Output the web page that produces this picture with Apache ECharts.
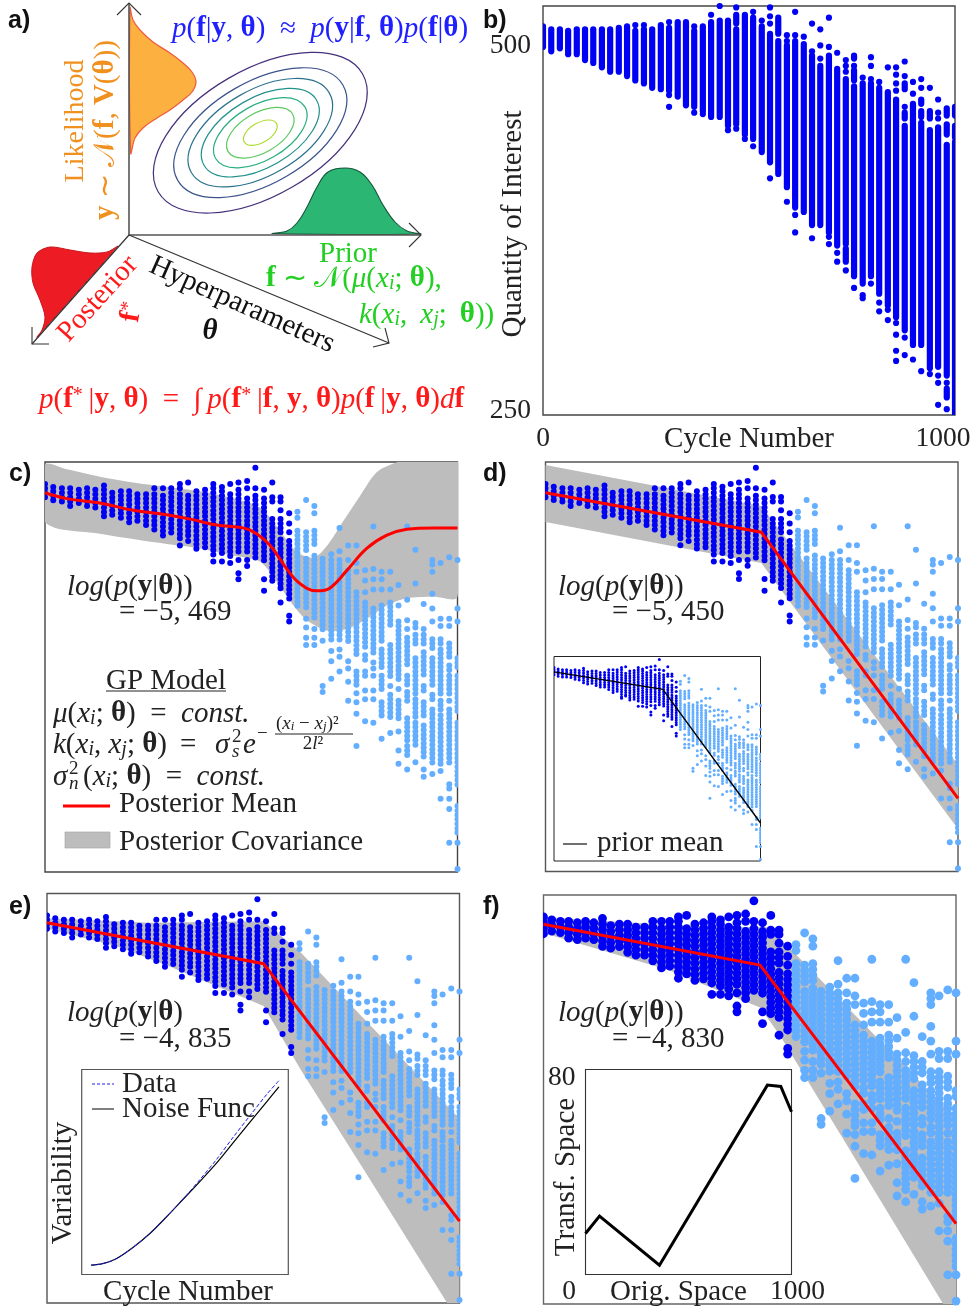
<!DOCTYPE html>
<html><head><meta charset="utf-8">
<style>html,body{margin:0;padding:0;background:#fff}#c{width:970px;height:1309px}</style>
<script src="https://cdn.jsdelivr.net/npm/echarts@6/dist/echarts.min.js"></script>
</head><body><div id="c"></div>
<script>
// ---------- DATA ----------
const cycles=[0,20,41,61,82,102,122,143,163,184,204,224,245,265,286,306,327,347,367,388,408,429,449,469,490,510,531,551,571,592,612,633,653,673,694,714,735,755,776,796,816,837,857,878,898,918,939,959,980,1000];
// Panel b: per column, runs [top,bottom] or single values [v] of the quantity of interest
const fullData=[
[[513,499]],[[511,496]],[[511,498]],[[510,494]],[[511,494]],[[511,490]],[[511,488]],[[511,485]],[[511,482]],[[512,482]],
[[513,479]],[[514],[510,476]],[[514],[511,474]],[[511,471]],[[514,470]],[[516],[512,469],[466],[458]],[[516,465]],[[516,459]],[[513],[510,458],[454]],[[513,455],[453]],
[[521],[516,451]],[[527],[517,451]],[[517,445],[442]],[[526],[521,515],[511,446],[443]],[[521,439],[436]],[[523],[519,436],[431]],[[517],[513,427]],[[526],[520],[515],[508,420],[409]],[[519,508],[503,412]],[[507],[503],[500,403],[393]],
[[523],[507],[503,389],[384],[372]],[[506],[501,386]],[[515],[496],[493,377],[368]],[[511],[500],[491],[486,377]],[[519],[499],[493,372],[369],[364]],[[495],[484,363],[358],[352]],[[490],[486],[482],[477,364],[361,352],[346]],[[493,491],[486],[483,476],[472,342],[334]],[[478],[474,337],[329],[327]],[[492],[486],[477],[474,342],[337]],
[[475],[471,330],[324],[318]],[[485],[468,322],[319],[312]],[[485],[480],[474],[469],[463,314],[310],[302],[291],[284]],[[489],[479],[474,470],[458],[454,450],[445,305],[300],[288]],[[475],[467],[460,295],[285]],[[477],[471],[463,460],[455,451],[447,295],[277]],[[471],[455,450],[442,279],[275]],[[463],[454],[450],[444,280],[274],[269],[254]],[[457,452],[446,439],[432,274],[269],[265,259],[251]],[[458,452],[445,437],[434,248]]
];
// Panels c-f: per column, runs of the sampled observations; first 30 columns are training data
const trainColumns=30;
const sampledData=[
[[512,500]],[[510,500]],[[509,499]],[[509,496]],[[508,496]],[[509,494]],[[508,493]],[[511,489]],[[506,488]],[[507,488]],
[[507,485]],[[505,485]],[[505,482]],[[509],[505,479]],[[509],[504,475]],[[509,477]],[[512],[509],[505,472],[470]],[[513],[504,474],[473]],[[507,466]],[[508,467]],
[[512],[509,463],[459]],[[510],[507,463],[459]],[[512],[505,462],[458]],[[513],[508,464],[460],[451],[447]],[[514],[509],[502,463],[460],[456]],[[523],[509],[504,459]],[[508],[502,458],[447],[439]],[[513],[503],[500],[488,443]],[[503],[500],[494],[488,478],[474,440],[431]],[[492],[485],[479],[473,431],[422],[418]],
[[493],[489],[480,427]],[[501],[479,466],[461,425],[420],[414],[407],[402]],[[497],[492],[480,468],[463,418],[413],[407],[402]],[[461,411],[405],[374],[370]],[[464],[460,404],[398],[391],[379]],[[482],[466],[460,404],[399],[394],[384]],[[470],[460],[453,402],[391],[386],[377],[364]],[[470],[458],[452],[438,395],[384,372],[369],[363],[355],[333]],[[453],[446],[438],[431,399],[395,390],[384,379],[371],[365],[350]],[[483],[454],[447],[440],[427,395],[390],[386],[381],[371],[365],[349]],
[[452],[447],[440],[429,404],[399,386],[381,370],[363,352],[338]],[[452],[440],[431,413],[402,379],[374],[368,352],[342]],[[443],[429],[418,377],[372],[364,349],[343],[330],[321]],[[483],[433],[419],[413],[407,386],[381,372],[370,361],[352,336],[333,324],[317]],[[467],[444],[417,411],[409,400],[393,368],[365,352],[349,333],[322]],[[430],[413],[409,402],[397,379],[374,368],[363,352],[347,324],[317],[312]],[[460,456],[452],[437],[427],[418],[406,397],[393,372],[368,362],[358,320],[314]],[[458],[420],[415],[406,402],[399,368],[364,356],[354,320],[316],[297]],[[462],[420],[415],[403,393],[388,384],[381,366],[364,361],[358,320],[307,302],[297],[290],[267]],[[460],[427],[418],[393,386],[381,354],[349,304],[292,272],[267],[249]]
];
const cMean=[[0,506],[53,502],[133,499],[214,494],[295,491],[352,488],[416,484],[481,482],[513,478],[546,470],[586,454],[618,444],[659,439],[691,441],[732,453],[780,468],[829,477],[877,481],[942,482],[1000,482]];
const cUpper=[[0,525],[53,522],[133,517],[214,513],[295,510],[376,507],[457,502],[521,496],[562,483],[602,468],[627,463],[655,462],[687,471],[724,487],[764,504],[804,520],[845,526],[877,528],[1000,528]];
const cLower=[[0,486],[133,478],[295,471],[376,468],[457,463],[521,459],[562,445],[602,429],[635,419],[683,412],[732,413],[780,420],[829,429],[877,434],[942,435],[1000,435]];
const dMean=[[0,506],[523,479],[1000,297]];
const dUpper=[[0,525],[523,497],[1000,320]];
const dLower=[[0,486],[523,458],[1000,276]];
const priorMean=[[0,506],[527,482],[1000,299]];
const eMean=[[0,507],[525,479],[1000,303]];
const eUpper=[[0,510],[250,507],[525,508],[614,487],[1000,373]];
const eLower=[[0,503],[169,491],[290,478],[525,450],[614,407],[775,335],[970,247],[1000,233]];
const fMean=[[0,507],[525,479],[1000,302]];
const fUpper=[[0,512],[331,506],[541,505],[606,488],[1000,374]];
const fLower=[[0,501],[299,476],[525,450],[573,431],[735,356],[969,247],[1000,235]];
const noiseData=[[0,0],[62,.008],[134,.035],[223,.095],[313,.17],[402,.26],[491,.355],[580,.46],[670,.57],[759,.69],[848,.805],[938,.92],[1000,.99]];
const noiseFunc=[[0,0],[62,.008],[134,.035],[223,.095],[313,.17],[402,.26],[491,.355],[580,.45],[670,.55],[759,.66],[848,.77],[938,.88],[1000,.957]];
const warpCurve=[[0,16],[68,22.8],[359,3.6],[883,73.9],[948,73.4],[1000,63.5]];
// Panel a: schematic densities and contour ellipses in schematic units
const likelihoodCurve=[[130,8],[133,20],[140,30],[153,42],[170,53],[183,63],[192,72],[196,82],[192,92],[183,100],[170,110],[157,118],[143,128],[135,138],[130.7,153]];
const priorCurve=[[273,233.5],[287,231],[297,223],[307,207],[317,187],[328,172],[345,168],[360,172],[372,185],[383,205],[395,222],[407,231],[420,234]];
const posteriorCurve=[[118,246],[107,252],[90,253],[70,250],[50,247],[37,253],[32,267],[33,283],[40,300],[45,317],[42,330],[37,337]];
const contourScales=[1,.808,.675,.551,.437,.316,.158];
const contourColors=['#46307c','#3b528b','#2c728e','#21918c','#28ae80','#5ec962','#addc30'];
const axisPaths=[
 {p:[[129,235],[129,3]],c:'#555',w:1.6},{p:[[117,15],[129,3],[141,15]],c:'#333',w:1.1},
 {p:[[129,235],[421,235]],c:'#555',w:1.6},{p:[[409,223],[421,235],[409,247]],c:'#333',w:1.1},
 {p:[[129,235],[32,344]],c:'#333',w:1.2},{p:[[32,327],[32,344],[49,344]],c:'#333',w:1.1},
 {p:[[129,235],[389,343]],c:'#333',w:1.2},{p:[[385,328],[389,343],[373,347]],c:'#333',w:1.1}];

// ---------- HELPERS ----------
const F='"Liberation Serif"', SANS='"Liberation Sans"';
const DARK='#0000f5', LIGHT='#64aeff', GREY='#bdbdbd', RED='#ff0000';
const TS='\u2009', EN='\u2002';
function rich(s){const sm=Math.round(s*.68);return {
 i:{fontSize:s,fontStyle:'italic',fontFamily:F},
 b:{fontSize:s,fontWeight:'bold',fontFamily:F},
 bi:{fontSize:s,fontWeight:'bold',fontStyle:'italic',fontFamily:F},
 sb:{fontSize:sm,fontStyle:'italic',fontFamily:F,verticalAlign:'bottom'},
 sp:{fontSize:sm,fontFamily:F,verticalAlign:'top'}};}
function T(x,y,text,o={}){const s=o.size||29;return {type:'text',x,y:y+(o.dy===undefined?2:o.dy),rotation:(o.rot||0)*Math.PI/180,z:50,silent:true,
 style:{text,fontSize:s,fontFamily:o.family||F,fontWeight:o.weight||'normal',fontStyle:o.italic?'italic':'normal',fill:o.color||'#222',
 align:o.align||'left',verticalAlign:'middle',rich:rich(s)}};}
function L(x1,y1,x2,y2,c,w,dash){return {type:'line',z:50,silent:true,shape:{x1,y1,x2,y2},style:{stroke:c,lineWidth:w,lineDash:dash||null}};}
const grids=[],xAxes=[],yAxes=[],series=[];
function addGrid(box,border,bw,x,y,z){const i=grids.length;
 grids.push({left:box[0],top:box[1],width:box[2]-box[0],height:box[3]-box[1],show:!!border,borderColor:border||'transparent',borderWidth:bw||0,backgroundColor:'#fff',z:z||0,containLabel:false,outerBoundsMode:'none'});
 xAxes.push(Object.assign({gridIndex:i,type:'value',show:false,splitLine:{show:false}},x));
 yAxes.push(Object.assign({gridIndex:i,type:'value',show:false,splitLine:{show:false}},y));
 return i;}
function flat(cols,from,to){const runs=[],pts=[];
 for(let k=from;k<to;k++){for(const r of cols[k]){ if(r.length===1) pts.push([cycles[k],r[0]]); else runs.push([cycles[k],r[0],r[1]]);}}
 return {runs,pts};}
function dots(g,cols,from,to,color,d,z,bead){const {runs,pts}=flat(cols,from,to);
 series.push({type:'custom',xAxisIndex:g,yAxisIndex:g,coordinateSystem:'cartesian2d',clip:true,z,silent:true,data:runs,
  encode:{x:0,y:1},renderItem:(p,api)=>{const a=api.coord([api.value(0),api.value(1)]),b=api.coord([api.value(0),api.value(2)]);
   return {type:'line',shape:{x1:a[0],y1:a[1],x2:b[0],y2:b[1]},style:{stroke:color,lineWidth:d,lineCap:'round',fill:null,lineDash:bead?[.01,bead]:null}};}});
 series.push({type:'scatter',xAxisIndex:g,yAxisIndex:g,z,silent:true,symbolSize:d,itemStyle:{color,opacity:1},data:pts,clip:true});}
function band(g,up,lo,smooth){series.push({type:'custom',xAxisIndex:g,yAxisIndex:g,coordinateSystem:'cartesian2d',clip:true,z:1,silent:true,data:[[0,0]],
 encode:{x:0,y:1},renderItem:(p,api)=>({type:'polygon',shape:{points:up.concat(lo.slice().reverse()).map(q=>api.coord(q)),smooth:smooth||0},style:{fill:GREY}})});}
function line(g,data,color,w,o={}){series.push(Object.assign({type:'line',xAxisIndex:g,yAxisIndex:g,data,showSymbol:false,symbol:'none',silent:true,z:5,clip:true,lineStyle:{color,width:w,type:o.type||'solid',join:'miter'}},o.extra||{}));}
function shape(g,pts,fill,stroke,sw,smooth){series.push({type:'custom',xAxisIndex:g,yAxisIndex:g,coordinateSystem:'cartesian2d',z:2,silent:true,data:[[0,0]],encode:{x:0,y:1},
 renderItem:(p,api)=>({type:'polygon',shape:{points:pts.map(q=>api.coord(q)),smooth:smooth||0},style:{fill,stroke,lineWidth:sw}})});}

const X={min:0,max:1000}, Y={min:247,max:527};
const serifLabel={fontFamily:F,fontSize:29,color:'#222'};
const TICK=27.5;
function shown(extra){return Object.assign({show:true,axisLine:{show:false},axisTick:{show:false},splitLine:{show:false},nameMoveOverlap:false,nameLocation:'middle',nameTextStyle:serifLabel},extra);}

// Panel a
const ga=addGrid([0,0,490,430],null,0,{min:0,max:490},{min:0,max:430,inverse:true});
shape(ga,likelihoodCurve,'#fbb040','#ef5a3c',1.2,.4);
shape(ga,priorCurve,'#2bb673','#15573a',1.1,.4);
shape(ga,posteriorCurve.concat([[118,246]]),'#ed1c24','#c8161d',1,.3);
series.push({type:'custom',xAxisIndex:ga,yAxisIndex:ga,coordinateSystem:'cartesian2d',z:3,silent:true,data:contourScales.map((s,i)=>[260.3,132.7,s,i]),encode:{x:0,y:1},
 renderItem:(p,api)=>{const c=api.coord([api.value(0),api.value(1)]),s=api.value(2);
  return {type:'ellipse',x:c[0],y:c[1],rotation:30*Math.PI/180,shape:{cx:0,cy:0,rx:118*s,ry:63*s},style:{fill:'none',stroke:contourColors[api.value(3)],lineWidth:1.2}};}});
axisPaths.forEach(a=>series.push({type:'custom',xAxisIndex:ga,yAxisIndex:ga,coordinateSystem:'cartesian2d',z:4,silent:true,data:[[0,0]],encode:{x:0,y:1},
 renderItem:(p,api)=>({type:'polyline',shape:{points:a.p.map(q=>api.coord(q))},style:{stroke:a.c,lineWidth:a.w,fill:'none'}})}));

// Panel b
const gb=addGrid([543,6,955,415],'#444',1.4,
 Object.assign({},X,shown({interval:1000,name:'Cycle Number',nameGap:10,axisLabel:{show:true,margin:10,fontFamily:F,fontSize:TICK,color:'#222',showMinLabel:true,showMaxLabel:true,hideOverlap:false,
   formatter:v=>v===1000?'{r|1000}':'0',rich:{r:{fontFamily:F,fontSize:TICK,color:'#222',padding:[0,24,0,0]}}}})),
 Object.assign({},Y,shown({name:'Quantity of Interest',nameGap:15,nameTextStyle:Object.assign({},serifLabel,{padding:[0,27,0,0]}),axisLabel:{show:true,margin:12,fontFamily:F,fontSize:TICK,color:'#222',customValues:[250,500],padding:[5,0,0,0]}})));
dots(gb,fullData,0,50,'#0000f5',6.2,3);

// Panels c-f
const MAIN=6, BEAD=4.4, BIG=8.8, BIGB=5.6;
const gc=addGrid([45,462,457.5,872],'#444',1.4,X,Y);
band(gc,cUpper,cLower,.3);dots(gc,sampledData,0,trainColumns,DARK,MAIN,3,BEAD);dots(gc,sampledData,trainColumns,50,LIGHT,MAIN,3,BEAD);
line(gc,cMean,RED,3,{extra:{smooth:.4}});

const gd=addGrid([545.5,462,958,871.5],'#555',1.4,X,Y);
band(gd,dUpper,dLower);dots(gd,sampledData,0,trainColumns,DARK,MAIN,3,BEAD);dots(gd,sampledData,trainColumns,50,LIGHT,MAIN,3,BEAD);
line(gd,dMean,RED,3);
const gdi=addGrid([554,656.5,760.5,861],'#222',1,X,Y,6);
dots(gdi,sampledData,0,trainColumns,DARK,3,8,2.4);dots(gdi,sampledData,trainColumns,50,LIGHT,3,8,2.4);
line(gdi,priorMean,'#000',1.4,{extra:{z:9}});

const ge=addGrid([47,893.5,459.5,1303],'#555',1.4,X,Y);
band(ge,eUpper,eLower);dots(ge,sampledData,0,trainColumns,DARK,MAIN,3,BEAD);dots(ge,sampledData,trainColumns,50,LIGHT,MAIN,3,BEAD);
line(ge,eMean,RED,3);
const gei=addGrid([81.7,1069.5,288.3,1274.5],'#555',1.2,
 shown({min:-50,max:1050,name:'Cycle Number',nameGap:3,nameTextStyle:Object.assign({},serifLabel,{padding:[0,0,0,6]}),axisLabel:{show:false}}),
 shown({min:-.05,max:1.05,name:'Variability',nameGap:4,nameTextStyle:Object.assign({},serifLabel,{padding:[0,22,0,0]}),axisLabel:{show:false}}),6);
line(gei,noiseFunc,'#000',1.2,{extra:{z:9,smooth:.3}});
line(gei,noiseData,'#1a1aee',1,{type:'dashed',extra:{z:10,smooth:.3}});

const gf=addGrid([543.5,895,956,1304],'#666',1.4,X,Y);
band(gf,fUpper,fLower);dots(gf,sampledData,0,trainColumns,DARK,BIG,3,BIGB);dots(gf,sampledData,trainColumns,50,LIGHT,BIG,3,BIGB);
line(gf,fMean,RED,3);
const gfi=addGrid([585.5,1069.5,791.5,1274.5],'#333',1.1,
 shown({min:0,max:1000,interval:1000,name:'Orig. Space',nameGap:3,nameTextStyle:Object.assign({},serifLabel,{padding:[0,20,0,0]}),
  axisLabel:{show:true,margin:3,showMinLabel:true,showMaxLabel:true,hideOverlap:false,fontFamily:F,fontSize:TICK,color:'#222',
   formatter:v=>v===1000?'{r|1000}':'{l|0}',rich:{l:{fontFamily:F,fontSize:TICK,color:'#222',padding:[0,33,0,0]},r:{fontFamily:F,fontSize:TICK,color:'#222',padding:[0,0,0,12]}}}}),
 shown({min:0,max:80,name:'Transf. Space',nameGap:5,nameTextStyle:Object.assign({},serifLabel,{padding:[0,10,0,0]}),
  axisLabel:{show:true,margin:10,customValues:[80],fontFamily:F,fontSize:TICK,color:'#222',formatter:v=>'{t|'+v+'}',rich:{t:{fontFamily:F,fontSize:TICK,color:'#222',padding:[16,0,0,0]}}}}),6);
line(gfi,warpCurve,'#000',3,{extra:{z:9}});

// ---------- TEXT ----------
const BLUE='#1f1fff',ORANGE='#f0901e',GREEN='#22cf22',REDT='#ff1a1a';
const lab=(x,y,t)=>T(x,y,t,{family:SANS,weight:'bold',size:25,color:'#111',dy:1});
const g=[
 lab(8,20,'a)'),lab(483,20,'b)'),lab(9,473,'c)'),lab(483,473,'d)'),lab(9,906,'e)'),lab(483,906,'f)'),
 T(172,27,'{i|p}({b|f}|{b|y}, {b|θ})'+EN+'≈'+EN+'{i|p}({b|y}|{b|f}, {b|θ}){i|p}({b|f}|{b|θ})',{color:BLUE}),
 T(76,119,'Likelihood',{rot:90,align:'center',color:ORANGE,size:28}),
 T(106,128,'{b|y} ∼ 𝒩({b|f}, {b|V}({b|θ}))',{rot:90,align:'center',color:ORANGE}),
 T(348,252,'Prior',{align:'center',color:GREEN}),
 T(266,277,'{b|f} ∼ 𝒩({i|μ}({i|x}{sb|i}; {b|θ}),',{color:GREEN}),
 T(359,313,'{i|k}({i|x}{sb|i}, '+TS+'{i|x}{sb|j}; '+TS+'{b|θ}))',{color:GREEN}),
 T(242,305,'Hyperparameters',{rot:-24,align:'center',color:'#111',dy:0}),
 T(210,330,'{bi|θ}',{align:'center',color:'#111'}),
 T(98,299,'Posterior',{rot:48,align:'center',color:REDT,dy:0}),
 T(132,312,'{b|f}{sp|*}',{rot:80,align:'center',color:REDT,dy:0}),
 T(39,398,'{i|p}({b|f}{sp|*}'+TS+'|{b|y}, {b|θ})'+EN+'='+EN+'∫'+TS+'{i|p}({b|f}{sp|*}'+TS+'|{b|f}, {b|y}, {b|θ}){i|p}({b|f}'+TS+'|{b|y}, {b|θ}){i|d}{b|f}',{color:REDT}),
 // c
 T(67,585,'{i|log}({i|p}({b|y}|{b|θ}))'),T(119,610,'= −5, 469'),
 T(166,679,'GP Model',{align:'center'}),L(106,691,226,691,'#222',1),
 T(53,712,'{i|μ}({i|x}{sb|i}; {b|θ})'+EN+'='+EN+'{i|const.}'),
 T(53,743,'{i|k}({i|x}{sb|i}, {i|x}{sb|j}; {b|θ})'+TS+' =',{}),
 T(215,743,'{i|σ}'),
 T(232,737,'2',{size:19,dy:0}),T(232,752,'s',{size:19,italic:true,dy:0}),T(243,743,'e',{italic:true}),T(257,734,'−',{size:19,dy:0}),
 T(276,724,'({i|x}{sb|i} − {i|x}{sb|j})²',{size:19,dy:0}),L(275,734,353,734,'#222',1),T(313,744,'2{i|l}²',{size:19,align:'center',dy:0}),
 T(53,775,'{i|σ}'),T(69,769,'2',{size:19,dy:0}),T(69,784,'n',{size:19,italic:true,dy:0}),T(83,775,'({i|x}{sb|i}; {b|θ})'+EN+'='+EN+'{i|const.}'),
 L(63,806,110,806,RED,3),T(119,802,'Posterior Mean'),
 {type:'rect',z:50,silent:true,shape:{x:65,y:832,width:45,height:16},style:{fill:GREY,stroke:'#aaa',lineWidth:.7}},
 T(119,840,'Posterior Covariance'),
 // d
 T(558,585,'{i|log}({i|p}({b|y}|{b|θ}))'),T(612,610,'= −5, 450'),
 L(563,844,587,844,'#222',1.3),T(597,841,'prior mean'),
 // e
 T(67,1011,'{i|log}({i|p}({b|y}|{b|θ})'),T(119,1037,'= −4, 835'),
 L(92,1084,114,1084,'#1a1aee',1,[3,2]),T(122,1082,'Data'),
 L(92,1109,114,1109,'#000',1),T(122,1107,'Noise Func'),
 // f
 T(558,1011,'{i|log}({i|p}({b|y}|{b|θ}))'),T(612,1037,'= −4, 830')
];

const chart=echarts.init(document.getElementById('c'),null,{renderer:'canvas'});
chart.setOption({animation:false,backgroundColor:'#fff',grid:grids,xAxis:xAxes,yAxis:yAxes,series,graphic:{elements:g}});
</script></body></html>
